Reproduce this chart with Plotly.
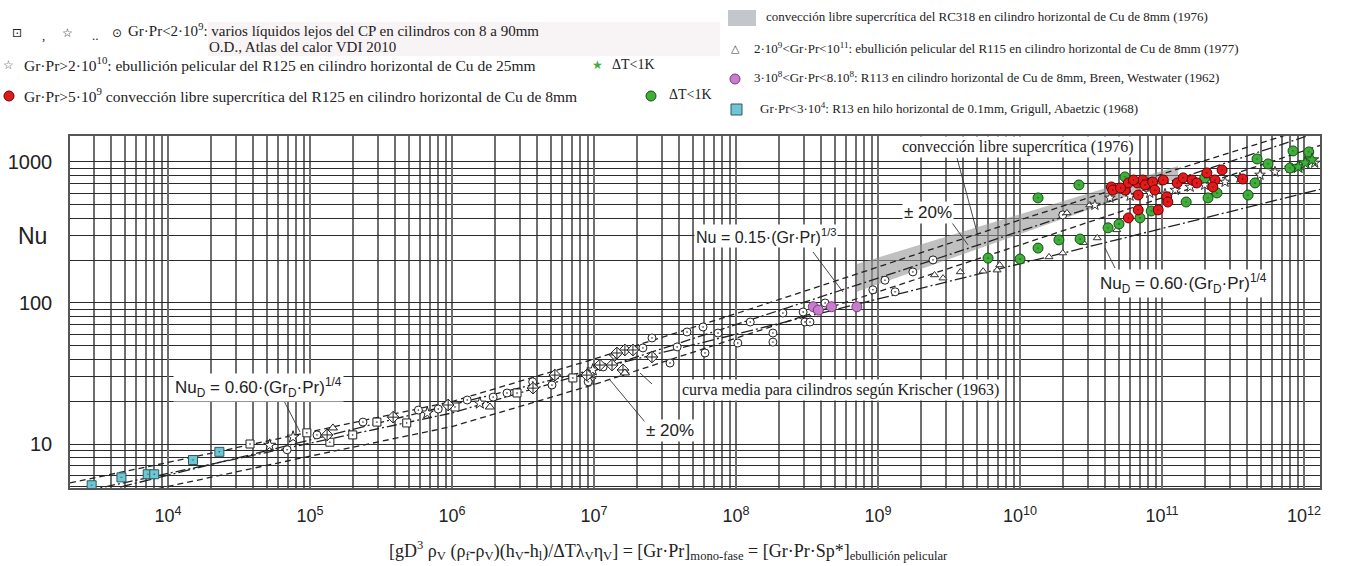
import plotly.graph_objects as go

W, H = 1345, 566

# ---------------- data ----------------
# R13 thin wire, Grigull & Abadzic (1968)
cyan_x = [2.9e3, 4.7e3, 7.2e3, 8.0e3, 1.5e4, 2.3e4]
cyan_y = [5.1, 5.8, 6.1, 6.1, 7.7, 8.8]

# R113, Breen & Westwater (1962)
mag_x = [3.5e8, 3.8e8, 4.7e8, 7.1e8]
mag_y = [94, 89, 94, 94]

# R125 supercritical free convection
red_x = [4.4e10, 4.5e10, 5.5e10, 5.8e10, 6.7e10, 7.3e10, 7.6e10, 8.6e10, 8.9e10, 1.02e11,
         1.28e11, 1.41e11, 1.63e11, 1.76e11, 2.07e11, 2.36e11, 2.28e11, 2.65e11, 3.7e11,
         6.8e10, 1.08e11, 1.1e11, 6.8e10, 5.8e10, 9.4e10, 6.3e10, 5.1e10]
red_y = [665, 632, 632, 710, 710, 745, 687, 721, 632, 745,
         710, 771, 745, 710, 836, 745, 665, 877, 757,
         583, 565, 520, 457, 401, 457, 745, 654]

# dT < 1K (green circles)
green_x = [5.96e9, 1.0e10, 1.34e10, 1.34e10, 1.88e10, 2.6e10, 2.65e10, 4.17e10, 4.98e10, 5.48e10,
           7.0e10, 8.4e10, 1.48e11, 2.11e11, 2.0e11, 2.44e11, 4.04e11, 4.52e11, 4.67e11,
           5.58e11, 7.96e11, 8.37e11, 1.08e12]
green_y = [208, 205, 245, 556, 280, 687, 284, 341, 363, 783,
           401, 449, 520, 556, 771, 603, 583, 710, 1050,
           968, 906, 1197, 1178]

# dT < 1K (green stars)
gstar_x = [9.1e11, 1.02e12, 1.14e12]
gstar_y = [922, 984, 1033]

# R125 film boiling (open stars)
r125_x = [3.37e10, 4.3e10, 5.96e10, 8.2e10, 1.05e11, 1.24e11, 1.58e11, 2.0e11, 2.78e11,
          3.54e11, 4.9e11, 6.25e11, 7.96e11, 9.4e11, 1.19e12]
r125_y = [495, 556, 574, 603, 593, 632, 665, 687, 721, 771, 809, 850, 906, 937, 984]

# R115 film boiling (open triangles)
r115_x = [2.5e9, 2.87e9, 3.8e9, 5.5e9, 6.9e9, 7.2e9, 1.6e10, 2.0e10, 2.14e10, 2.8e10,
          3.1e10, 3.5e10, 4.8e10]
r115_y = [158, 150, 166, 168, 171, 186, 212, 226, 435, 267, 495, 289, 330]

# VDI Heat Atlas, various liquids
vdi_sq_x = [3.78e4, 9.5e4, 1.38e5, 2.0e5, 2.96e5, 4.8e5, 1.05e6, 2.87e6, 7.1e6]
vdi_sq_y = [10.0, 12.0, 10.3, 11.6, 14.3, 14.1, 18.3, 23.0, 29.4]
vdi_star_x = [5.2e4, 7.6e4, 6.7e5, 1.57e6, 9.4e6, 9.8e6]
vdi_star_y = [9.8, 11.2, 16.6, 19.5, 28.5, 33.5]
vdi_ci_x = [6.9e4, 1.12e5, 2.36e5, 5.8e5, 8.0e5, 1.28e6, 1.95e6, 2.44e6, 5.06e6, 3.7e6, 9.1e6,
            1.16e7, 2.21e7, 2.56e7, 3.43e7, 3.85e7, 4.52e7, 5.86e7, 6.05e7, 7.47e7, 1.03e8,
            1.26e8, 1.82e8, 1.82e8, 2.14e8, 2.97e8, 3.06e8, 3.32e8, 4.24e8, 9.2e8, 1.12e9,
            1.32e9, 1.76e9, 2.44e9, 2.0e10]
vdi_ci_y = [9.1, 11.6, 14.3, 17.4, 17.7, 20.5, 21.5, 23.0, 26.2, 27.6, 27.6,
            35.2, 48.0, 56.5, 37.5, 48.8, 62.3, 67.6, 44.2, 61.2, 52.0,
            73.3, 61.2, 52.8, 84.9, 86.3, 73.3, 73.3, 100, 124, 145,
            120, 166, 202, 421]
vdi_di_x = [1.32e5, 3.85e5, 9.4e5, 3.72e6, 5.3e6, 8.9e6, 1.1e7, 1.41e7, 1.65e7, 2.56e7,
            1.45e7, 1.34e7, 1.6e7, 1.88e7]
vdi_di_y = [11.6, 15.5, 18.9, 24.9, 30.8, 30.8, 36.3, 42.8, 46.4, 41.4,
            44.2, 36.3, 33.5, 46.4]
vdi_tri_x = [1.45e5, 1.85e6, 1.65e7]
vdi_tri_y = [13.0, 18.3, 31.9]

# correlation curves
kr_x = [2.04e3, 1e4, 1e5, 1e6, 1e7, 1e8, 1e9, 1e10, 1e11, 1.3e12]
kr_mean = [4.4, 6.2, 10.2, 16.6, 33, 70, 150, 323, 696, 1640]
kr_up = [5.3, 7.4, 12.2, 20, 40, 84, 180, 388, 820, 1850]
kr_lo = [3.5, 5.0, 8.2, 13.3, 26.4, 56, 120, 258, 557, 1310]
nud_x = [4.6e3, 1.3e12]
nud_y = [4.95, 640]

# RC318 supercritical band (1976)
band_x = [7.1e8, 1.3e11, 1.3e11, 7.1e8]
band_y = [189, 937, 771, 120]

# axis ticks
x_major = [1e4, 1e5, 1e6, 1e7, 1e8, 1e9, 1e10, 1e11, 1e12]
x_major_text = ["10<sup>4</sup>", "10<sup>5</sup>", "10<sup>6</sup>", "10<sup>7</sup>",
                "10<sup>8</sup>", "10<sup>9</sup>", "10<sup>10</sup>", "10<sup>11</sup>",
                "10<sup>12</sup>"]
y_major = [10, 100, 1000]
y_major_text = ["10", "100", "1000"]
x_minor = [m * 10 ** e for e in range(3, 13) for m in range(1, 10)]
y_minor = [m * 10 ** e for e in range(0, 4) for m in range(1, 10)]

# ---------------- figure ----------------
SERIF = "Liberation Serif"
SANS = "Liberation Sans"

def P(px, py):
    return px / W, 1 - py / H

fig = go.Figure()

fig.add_trace(go.Scatter(x=band_x, y=band_y, fill="toself", mode="lines",
                         fillcolor="rgba(150,150,150,0.6)", line=dict(width=0),
                         showlegend=False, hoverinfo="skip"))

def curve(x, y, dash, width=1.3, color="#222"):
    fig.add_trace(go.Scatter(x=x, y=y, mode="lines", showlegend=False,
                             line=dict(color=color, width=width, dash=dash)))

curve(kr_x, kr_up, "6px,4px")
curve(kr_x, kr_mean, "10px,3px,2px,3px")
curve(kr_x, kr_lo, "6px,4px")
curve(nud_x, nud_y, "12px,3px,2px,3px")

def pts(x, y, symbol, fill, line, size=8, lw=1):
    fig.add_trace(go.Scatter(x=x, y=y, mode="markers", showlegend=False,
                             marker=dict(symbol=symbol, size=size, color=fill,
                                         line=dict(color=line, width=lw))))

pts(vdi_sq_x, vdi_sq_y, "square-dot", "white", "#222", 8)
pts(vdi_star_x, vdi_star_y, "star", "white", "#222", 9)
pts(vdi_ci_x, vdi_ci_y, "circle-dot", "white", "#222", 8)
pts(vdi_di_x, vdi_di_y, "diamond-cross", "white", "#222", 9)
pts(vdi_tri_x, vdi_tri_y, "triangle-up", "white", "#222", 8)
pts(r115_x, r115_y, "triangle-up", "white", "#333", 7)
pts(r125_x, r125_y, "star", "white", "#333", 8)
pts(cyan_x, cyan_y, "square-dot", "#6ec6d4", "#2a5a62", 9)
pts(mag_x, mag_y, "circle", "#c77dcc", "#7a3a80", 10)
pts(green_x, green_y, "circle-dot", "#3fae3a", "#145214", 10)
pts(gstar_x, gstar_y, "star", "#3fae3a", "#145214", 10)
pts(red_x, red_y, "circle-dot", "#e3191c", "#600", 10)

x0, x1 = 70, 1320
y0, y1 = 136, 488
fig.update_layout(
    width=W, height=H, margin=dict(l=0, r=0, t=0, b=0),
    paper_bgcolor="white", plot_bgcolor="white", showlegend=False,
    xaxis=dict(type="log", domain=[x0 / W, x1 / W], range=[3.3099, 12.1127],
               tickmode="array", tickvals=x_major, ticktext=x_major_text,
               showgrid=True, gridcolor="#6e6e6e", gridwidth=1.6,
               minor=dict(tickmode="array", tickvals=x_minor, showgrid=True,
                          gridcolor="#6e6e6e", gridwidth=1.6, ticks=""),
               showline=True, linecolor="#555", linewidth=1.5, mirror=True, zeroline=False,
               ticks="outside", ticklen=11, tickcolor="rgba(0,0,0,0)",
               tickfont=dict(family=SANS, size=18, color="#222")),
    yaxis=dict(type="log", domain=[1 - y1 / H, 1 - y0 / H], range=[0.688, 3.184],
               tickmode="array", tickvals=y_major, ticktext=y_major_text,
               showgrid=True, gridcolor="#2a2a2a", gridwidth=1.4,
               minor=dict(tickmode="array", tickvals=y_minor, showgrid=True,
                          gridcolor="#2a2a2a", gridwidth=1.4, ticks=""),
               showline=True, linecolor="#555", linewidth=1.5, mirror=True, zeroline=False,
               ticks="outside", ticklen=12, tickcolor="rgba(0,0,0,0)",
               tickfont=dict(family=SANS, size=20, color="#222")),
)

ann = []
def text(px, py, s, size=13, family=SERIF, anchor="left", bg=None, color="#222"):
    x, y = P(px, py)
    d = dict(x=x, y=y, xref="paper", yref="paper", text=s, showarrow=False,
             xanchor=anchor, yanchor="middle", font=dict(family=family, size=size, color=color))
    if bg:
        d["bgcolor"] = bg
        d["borderpad"] = 1
    ann.append(d)

shapes = []
def seg(ax, ay, bx, by, w=0.9):
    xa, ya = P(ax, ay)
    xb, yb = P(bx, by)
    shapes.append(dict(type="line", xref="paper", yref="paper", x0=xa, y0=ya, x1=xb, y1=yb,
                       line=dict(color="#333", width=w)))

def rect(ax, ay, bx, by, fill, line="rgba(0,0,0,0)", lw=0):
    xa, ya = P(ax, ay)
    xb, yb = P(bx, by)
    shapes.append(dict(type="rect", xref="paper", yref="paper", x0=xa, y0=ya, x1=xb, y1=yb,
                       fillcolor=fill, line=dict(color=line, width=lw), layer="below"))

def dot(cx, cy, r, fill, line):
    xa, ya = P(cx - r, cy - r)
    xb, yb = P(cx + r, cy + r)
    shapes.append(dict(type="circle", xref="paper", yref="paper", x0=xa, y0=ya, x1=xb, y1=yb,
                       fillcolor=fill, line=dict(color=line, width=1)))

# axis titles
text(32, 236, "Nu", size=23, family=SANS, anchor="center")
text(668, 550, "[gD<sup>3</sup> ρ<sub>V</sub> (ρ<sub>f</sub>-ρ<sub>V</sub>)(h<sub>V</sub>-h<sub>l</sub>)/ΔTλ<sub>V</sub>η<sub>V</sub>] = [Gr·Pr]<sub>mono-fase</sub> = [Gr·Pr·Sp*]<sub>ebullición pelicular</sub>",
     size=18, anchor="center")

# legend, left block
rect(208, 22, 720, 56, "#f8f3f4")
text(17, 33, "⊡", size=12, family="DejaVu Sans", anchor="center")
text(43, 35, ",", size=13, anchor="center")
text(67, 33, "☆", size=12, family="DejaVu Sans", anchor="center")
text(95, 35, "..", size=13, anchor="center")
text(117, 33, "⊙", size=12, family="DejaVu Sans", anchor="center")
text(126, 30, "Gr·Pr<2·10<sup>9</sup>: varios líquidos lejos del CP en cilindros con 8 a 90mm", size=15)
text(207, 47, "O.D., Atlas del calor VDI 2010", size=15)
text(8, 65, "☆", size=12, family="DejaVu Sans", anchor="center", color="#555")
text(22, 64, "Gr·Pr>2·10<sup>10</sup>: ebullición pelicular del R125 en cilindro horizontal de Cu de 25mm", size=15.5)
text(597, 65, "★", size=12, family="DejaVu Sans", anchor="center", color="#3fae3a")
text(610, 64, "ΔT<1K", size=14)
dot(9, 96, 5, "#e3191c", "#600")
text(22, 95, "Gr·Pr>5·10<sup>9</sup> convección libre supercrítica del R125 en cilindro horizontal de Cu de 8mm", size=15.5)
dot(651, 96, 5, "#3fae3a", "#145214")
text(667, 95, "ΔT<1K", size=14)

# legend, right block
rect(728, 10, 756, 26, "#c3c6cb")
text(764, 17, "convección libre supercrítica del RC318 en cilindro horizontal de Cu de 8mm (1976)", size=13)
text(735, 49, "△", size=11, family="DejaVu Sans", anchor="center", color="#444")
text(752, 48, "2·10<sup>9</sup><Gr·Pr<10<sup>11</sup>: ebullición pelicular del R115 en cilindro horizontal de Cu de 8mm (1977)", size=13)
dot(735, 79, 5, "#c77dcc", "#7a3a80")
text(752, 77, "3·10<sup>8</sup><Gr·Pr<8.10<sup>8</sup>: R113 en cilindro horizontal de Cu de 8mm, Breen, Westwater (1962)", size=13)
rect(731, 104, 742, 115, "#6ec6d4", "#2a5a62", 1)
text(758, 108, "Gr·Pr<3·10<sup>4</sup>: R13 en hilo horizontal de 0.1mm, Grigull, Abaetzic (1968)", size=13)

# in-plot labels and leaders
seg(957, 158, 978, 236)
seg(950, 220, 968, 245)
seg(813, 252, 843, 292)
seg(640, 373, 652, 384)
seg(610, 380, 645, 422)
seg(283, 399, 300, 432)
seg(1105, 248, 1115, 268)
text(1017, 147, "convección libre supercrítica (1976)", size=16, anchor="center", bg="white")
text(928, 212, "± 20%", size=17, family=SANS, anchor="center", bg="white")
text(766, 236, "Nu = 0.15·(Gr·Pr)<sup>1/3</sup>", size=16, family=SANS, anchor="center", bg="white")
text(840, 390, "curva media para cilindros según Krischer (1963)", size=16, anchor="center", bg="white")
text(670, 430, "± 20%", size=17, family=SANS, anchor="center", bg="white")
text(258, 387, "Nu<sub>D</sub> = 0.60·(Gr<sub>D</sub>·Pr)<sup>1/4</sup>", size=17, family=SANS, anchor="center", bg="white")
text(1183, 283, "Nu<sub>D</sub> = 0.60·(Gr<sub>D</sub>·Pr)<sup>1/4</sup>", size=17, family=SANS, anchor="center", bg="white")

fig.update_layout(annotations=ann, shapes=shapes)
fig.write_html("out.html")
